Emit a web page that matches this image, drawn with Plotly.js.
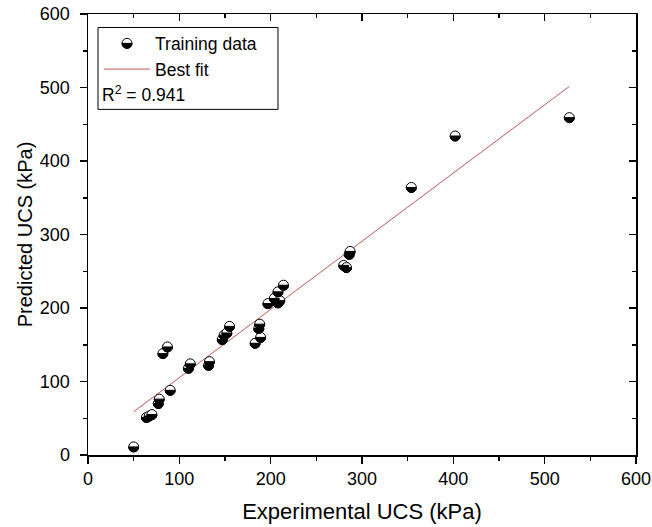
<!DOCTYPE html>
<html>
<head>
<meta charset="utf-8">
<script src="https://cdn.plot.ly/plotly-3.0.1.min.js"></script>
<style>html,body{margin:0;padding:0;background:#fff;}#chart{width:652px;height:527px;}</style>
</head>
<body>
<div id="chart"></div>
<script>
// Training data (Experimental vs Predicted UCS, kPa)
const experimentalUCS = [50, 64, 67, 70, 77, 78, 82, 87, 90, 110, 112, 132, 133, 147, 149, 152, 155,
  183, 187, 188, 189, 197, 204, 208, 210, 208, 214, 280, 283, 286, 287, 354, 402, 527];
const predictedUCS = [11, 51, 53, 55, 70, 76, 138, 147, 88, 118, 124, 122, 127, 157, 163, 166, 175,
  152, 172, 178, 160, 206, 213, 207, 210, 222, 231, 258, 255, 273, 277, 364, 434, 459];
// Best fit line endpoints
const fitX = [50, 527];
const fitY = [58.8, 501.5];
const r2Text = 'R<sup>2</sup> = 0.941';
const xTicks = [0, 100, 200, 300, 400, 500, 600];
const yTicks = [0, 100, 200, 300, 400, 500, 600];

const FONT = 'Liberation Sans, Arial, sans-serif';
const MS = 10;

const data = [
  {x: fitX, y: fitY, mode: 'lines', name: 'Best fit', legendrank: 2,
   line: {color: 'rgb(192,90,90)', width: 1}, hoverinfo: 'skip'},
  {x: experimentalUCS, y: predictedUCS, mode: 'markers', name: 'Training data', legendrank: 1, uid: 'top',
   marker: {symbol: 'circle', size: MS, color: 'white', line: {color: 'black', width: 1}}},
  {x: experimentalUCS, y: predictedUCS, mode: 'markers', name: 'half', showlegend: false, uid: 'half',
   marker: {symbol: 'circle', size: MS, color: 'black', line: {color: 'black', width: 1}}},
  {x: [], y: [], xaxis: 'x2', yaxis: 'y2', mode: 'markers', showlegend: false, hoverinfo: 'skip'}
];

const common = {
  showgrid: false, zeroline: false, showline: true, linecolor: 'black', linewidth: 1.5,
  tickwidth: 1.5, tickcolor: 'black', ticklen: 7, range: [0, 600], autorange: false,
  tickfont: {family: FONT, size: 18, color: 'black'}
};

const layout = {
  width: 652, height: 527,
  margin: {l: 88, r: 16, t: 13.5, b: 72, pad: 0},
  paper_bgcolor: 'white', plot_bgcolor: 'white',
  font: {family: FONT, color: 'black', size: 18},
  showlegend: true,
  legend: {x: 0.0201, y: 0.974, xanchor: 'left', yanchor: 'top', bgcolor: 'rgba(0,0,0,0)',
    borderwidth: 0, font: {family: FONT, size: 17.5, color: 'black'}, itemwidth: 46, tracegroupgap: 0},
  xaxis: Object.assign({}, common, {
    tickvals: xTicks, ticktext: xTicks.map(String), ticks: 'outside', mirror: true,
    minor: {ticks: 'outside', ticklen: 4, tickwidth: 1.5, tickcolor: 'black', dtick: 50, tick0: 0, showgrid: false},
    title: {text: 'Experimental UCS (kPa)', font: {family: FONT, size: 22, color: 'black'}, standoff: 15}
  }),
  yaxis: Object.assign({}, common, {
    tickvals: yTicks, ticktext: yTicks.map(String), ticks: 'outside', mirror: true, ticklabelstandoff: 6,
    minor: {ticks: 'outside', ticklen: 4, tickwidth: 1.5, tickcolor: 'black', dtick: 50, tick0: 0, showgrid: false},
    title: {text: 'Predicted UCS (kPa)', font: {family: FONT, size: 20, color: 'black'}, standoff: 2}
  }),
  xaxis2: Object.assign({}, common, {
    overlaying: 'x', side: 'top', anchor: 'y2', tickvals: xTicks, ticks: 'inside', showticklabels: false,
    minor: {ticks: 'inside', ticklen: 4, tickwidth: 1.5, tickcolor: 'black', dtick: 50, tick0: 0, showgrid: false}
  }),
  yaxis2: Object.assign({}, common, {
    overlaying: 'y', side: 'right', anchor: 'x2', tickvals: yTicks, ticks: 'inside', showticklabels: false,
    minor: {ticks: 'inside', ticklen: 4, tickwidth: 1.5, tickcolor: 'black', dtick: 50, tick0: 0, showgrid: false}
  }),
  shapes: [{type: 'rect', xref: 'paper', yref: 'paper', x0: 0.01825, x1: 0.3467, y0: 0.7837, y1: 0.9694,
    line: {color: 'black', width: 1}, fillcolor: 'rgba(0,0,0,0)'}],
  annotations: [{xref: 'paper', yref: 'paper', x: 0.0219, y: 0.8195, xanchor: 'left', yanchor: 'middle',
    text: r2Text, showarrow: false, font: {family: FONT, size: 17.5, color: 'black'}}]
};

Plotly.newPlot('chart', data, layout, {staticPlot: true, displayModeBar: false}).then(function (gd) {
  const r = MS / 2;
  const half = 'M' + (-r) + ',0A' + r + ',' + r + ' 0 0,0 ' + r + ',0Z';
  gd.querySelectorAll('.tracehalf path.point').forEach(function (p) { p.setAttribute('d', half); });
  // legend symbol: add black bottom half to the Training data marker
  gd.querySelectorAll('.legend .traces').forEach(function (g) {
    const txt = g.querySelector('.legendtext');
    if (txt && txt.textContent === 'Training data') {
      const pt = g.querySelector('path.scatterpts');
      if (pt) {
        const c = pt.cloneNode(true);
        c.setAttribute('d', half);
        c.style.fill = 'black';
        pt.parentNode.appendChild(c);
      }
    }
  });
});
</script>
</body>
</html>
